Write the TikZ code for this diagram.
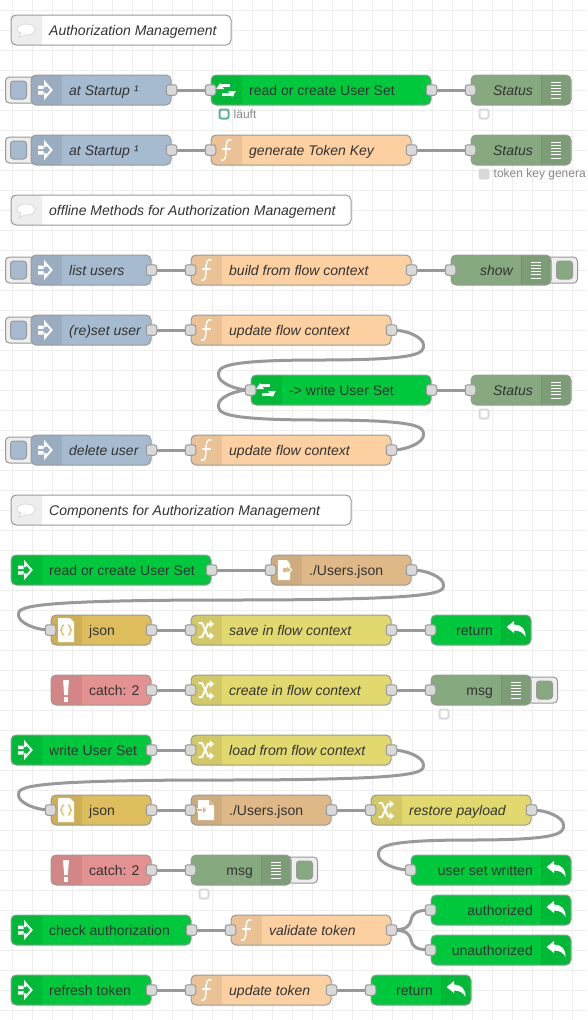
\documentclass[tikz,border=0pt]{standalone}
\usepackage{fontspec}
\setmainfont{Liberation Sans}
\usetikzlibrary{positioning,calc,backgrounds}

\definecolor{nrInject}{HTML}{A6BBCF}
\definecolor{nrLink}{HTML}{00C83C}
\definecolor{nrFunction}{HTML}{FDD0A2}
\definecolor{nrDebug}{HTML}{87A980}
\definecolor{nrChange}{HTML}{E2D96E}
\definecolor{nrFile}{HTML}{DEB887}
\definecolor{nrJson}{HTML}{DEBD5C}
\definecolor{nrCatch}{HTML}{E49191}
\definecolor{nrEdge}{HTML}{999999}
\definecolor{nrPort}{HTML}{D9D9D9}
\definecolor{nrGrid}{HTML}{EEEEEE}
\definecolor{nrText}{HTML}{333333}
\definecolor{nrHint}{HTML}{888888}
\definecolor{nrTeal}{HTML}{5FAE94}

% node body with the icon band on the left
\newcommand{\leftnode}[8]{
  \node[flowbox, fill=#5, minimum width={#3-#2}] (#1) at ({(#2+#3)/2},#4) {};
  \begin{scope}[shift={(#2,#4)}]
    \clip[rounded corners=4.5pt] (0.5,-14.5) rectangle ({#3-#2-0.5},14.5);
    \fill[iconband] (0,-15) rectangle (30,15);
    \fill[iconband] (29.5,-15) rectangle (30.5,15);
  \end{scope}
  \begin{scope}[shift={(#2+15,#4)}] #6 \end{scope}
  \node[#7, anchor=base west] (#1-label) at (#2+38,#4+5) {#8};
}
% node body with the icon band on the right
\newcommand{\rightnode}[8]{
  \node[flowbox, fill=#5, minimum width={#3-#2}] (#1) at ({(#2+#3)/2},#4) {};
  \begin{scope}[shift={(#2,#4)}]
    \clip[rounded corners=4.5pt] (0.5,-14.5) rectangle ({#3-#2-0.5},14.5);
    \fill[iconband] ({#3-#2-30},-15) rectangle ({#3-#2},15);
    \fill[iconband] ({#3-#2-30.5},-15) rectangle ({#3-#2-29.5},15);
  \end{scope}
  \begin{scope}[shift={(#3-15,#4)}] #6 \end{scope}
  \node[#7, anchor=base east] (#1-label) at (#3-38,#4+5) {#8};
}
% button tabs sitting behind a node
\newcommand{\lefttab}[2]{
  \begin{scope}[on background layer]
    \node[tabbox] (#1-tab) at ([xshift=-10]#1.west) {};
  \end{scope}
  \node[tabkey, fill=#2] (#1-key) at ([xshift=-12]#1.west) {};
}
\newcommand{\righttab}[2]{
  \begin{scope}[on background layer]
    \node[tabbox] (#1-tab) at ([xshift=11]#1.east) {};
  \end{scope}
  \node[tabkey, fill=#2] (#1-key) at ([xshift=13]#1.east) {};
}
% wire that loops back to a node further left, #3 is 1 going down, -1 going up
\newcommand{\loopwire}[3]{
  \draw[wire] (#1.center)
    .. controls ($(#1.center)+(16,0)$) and ($(#1.center)+(32,#3*7.5)$) .. ($(#1.center)+(32,#3*15)$)
    .. controls ($(#1.center)+(32,#3*22.5)$) and ($(#1.center)+(32,#3*30)$) .. ($(#1.center)!0.5!(#2.center)$)
    .. controls ($(#2.center)+(-32,-1*#3*30)$) and ($(#2.center)+(-32,-1*#3*22.5)$) .. ($(#2.center)+(-32,-1*#3*15)$)
    .. controls ($(#2.center)+(-32,-1*#3*7.5)$) and ($(#2.center)+(-16,0)$) .. (#2.center);
}

% icons
\newcommand{\iconInject}{
  \fill[white] (-8,-4.5) rectangle (-2.5,-1) (-8,1) rectangle (-2.5,4.5);
  \draw[white, line width=2pt, line join=miter] (-1,-3) -- (-1,-7.5) -- (5.5,0) -- (-1,7.5) -- (-1,3);
}
\newcommand{\iconDebug}{
  \foreach \k in {-8,-4.8,-1.6,1.6,4.8,8} {\draw[white, line width=1pt] (-5,\k) -- (5,\k);}
}
\newcommand{\iconFunction}{
  \draw[white, line width=1.5pt] (5.5,-10) .. controls (1,-12) and (0,-7) .. (0,0) .. controls (0,7) and (-1,12) .. (-5,10);
  \draw[white, line width=1.5pt] (-4.5,-1) -- (5,-1);
}
\newcommand{\iconLoop}{
  \draw[white, line width=3pt] (-6,-2) -- (-6,-4.5) -- (4,-4.5);
  \draw[white, line width=3pt] (6,2) -- (6,4.5) -- (-4,4.5);
  \fill[white] (-10,-1) -- (-2,-1) -- (-6,-7) -- cycle (2,1) -- (10,1) -- (6,7) -- cycle;
}
\newcommand{\iconNote}{
  \filldraw[draw=nrPort, fill=white, line width=0.8pt] (-5,3) -- (-7,7.5) -- (-1,5) .. controls (5,5.5) and (9,3) .. (9,-0.5) .. controls (9,-4) and (5,-6) .. (0,-6) .. controls (-5,-6) and (-9,-4) .. (-9,-0.5) .. controls (-9,1) and (-7.5,2.5) .. (-5,3) -- cycle;
}
\newcommand{\iconChange}{
  \draw[white, line width=2pt] (-7.5,-7) -- (-4,-7) -- (2,6) -- (5,6);
  \draw[white, line width=2pt] (-7.5,7) -- (-4,7) -- (2,-6) -- (5,-6);
  \fill[white] (3.5,-10) -- (8,-6) -- (3.5,-2) -- cycle (3.5,2) -- (8,6) -- (3.5,10) -- cycle;
}
\newcommand{\iconFileIn}{
  \fill[white] (-8,-10) -- (1,-10) -- (4,-6) -- (4,10) -- (-8,10) -- cycle;
  \fill[nrFile] (0.5,-2) -- (0.5,-5) -- (4.5,0) -- (0.5,5) -- (0.5,2) -- (-3,2) -- (-3,-2) -- cycle;
  \draw[white, line width=1pt] (0.5,-2) -- (0.5,-5) -- (6,0) -- (0.5,5) -- (0.5,2) -- (4,2);
}
\newcommand{\iconFileOut}{
  \fill[white] (-8,-10) -- (3,-10) -- (8,-5) -- (8,10) -- (-8,10) -- cycle;
  \fill[nrFile] (3,-10) -- (3,-5) -- (8,-5) -- cycle;
  \fill[white] (-9,-2) rectangle (-4,2);
  \fill[white] (-4,-5) -- (2,0) -- (-4,5) -- cycle;
  \fill[nrFile] (-9,-1) rectangle (-4,1);
  \fill[nrFile] (-3,-3) -- (0.5,0) -- (-3,3) -- cycle;
}
\newcommand{\iconJson}{
  \fill[white] (-8,-12) -- (4,-12) -- (8,-8) -- (8,12) -- (-8,12) -- cycle;
  \draw[nrJson, line width=1.2pt] (-2,-5) .. controls (-5,-5) and (-3,-1) .. (-5.5,0) .. controls (-3,1) and (-5,5) .. (-2,5);
  \draw[nrJson, line width=1.2pt] (2,-5) .. controls (5,-5) and (3,-1) .. (5.5,0) .. controls (3,1) and (5,5) .. (2,5);
}
\newcommand{\iconCatch}{
  \fill[white] (-3,-10) -- (3,-10) -- (1.8,5) -- (-1.8,5) -- cycle;
  \fill[white] (-2.2,7) rectangle (2.2,12);
}
\newcommand{\iconReturn}{
  \fill[white] (-9.5,-3) -- (-2,-9) -- (-2,-5.5) .. controls (5,-5.5) and (10,-1) .. (9.5,7) .. controls (7.5,3) and (4,0.5) .. (-2,0.5) -- (-2,3) -- cycle;
}

\begin{document}
\begin{tikzpicture}[
    x=1pt, y=-1pt,
    flowbox/.style={rectangle, draw=nrEdge, line width=1pt, rounded corners=5pt, minimum height=30pt, inner sep=0pt},
    iconband/.style={black, fill opacity=0.07},
    tabbox/.style={rectangle, draw=nrEdge, line width=1pt, fill=nrGrid, rounded corners=4pt, minimum width=30pt, minimum height=26pt, inner sep=0pt},
    tabkey/.style={rectangle, draw=nrEdge, line width=1pt, rounded corners=3pt, minimum width=16pt, minimum height=18pt, inner sep=0pt},
    port/.style={rectangle, draw=nrEdge, line width=1pt, fill=nrPort, rounded corners=2.5pt, minimum size=10.5pt, inner sep=0pt},
    wire/.style={draw=nrEdge, line width=3pt},
    flowtext/.style={font=\fontsize{14}{16}\selectfont, text=nrText, inner sep=0pt},
    flowname/.style={flowtext, font=\fontsize{14}{16}\selectfont\itshape},
    statusring/.style={rectangle, draw=#1, line width=2pt, fill=white, rounded corners=2pt, minimum size=9pt, inner sep=0pt},
    statusfull/.style={rectangle, draw=#1, line width=2pt, fill=#1, rounded corners=2pt, minimum size=9pt, inner sep=0pt},
    statustext/.style={font=\fontsize{12}{14}\selectfont, text=nrHint, inner sep=0pt},
]
\useasboundingbox (0,0) rectangle (587,1020);

% Canvas
\begin{scope}[on background layer]
  \fill[white] (0,0) rectangle (587,1020);
  \foreach \gx in {12,32,...,572} {\draw[nrGrid, line width=1pt] (\gx,0) -- (\gx,1020);}
  \foreach \gy in {10,30,...,1010} {\draw[nrGrid, line width=1pt] (0,\gy) -- (587,\gy);}
\end{scope}

% Authorization Management
\leftnode{noteAuth}{11}{231}{30}{white}{\iconNote}{flowname}{Authorization Management}
\leftnode{startA}{31}{171}{90}{nrInject}{\iconInject}{flowname}{at Startup ¹}
\leftnode{readSet}{211}{431}{90}{nrLink}{\iconLoop}{flowtext}{read or create User Set}
\rightnode{statusA}{471}{571}{90}{nrDebug}{\iconDebug}{flowname}{Status}
\leftnode{startB}{31}{171}{150}{nrInject}{\iconInject}{flowname}{at Startup ¹}
\leftnode{tokenKey}{211}{411}{150}{nrFunction}{\iconFunction}{flowname}{generate Token Key}
\rightnode{statusB}{471}{571}{150}{nrDebug}{\iconDebug}{flowname}{Status}

% offline Methods
\leftnode{noteOffline}{11}{351}{210}{white}{\iconNote}{flowname}{offline Methods for Authorization Management}
\leftnode{listUsers}{31}{151}{270}{nrInject}{\iconInject}{flowname}{list users}
\leftnode{buildCtx}{191}{411}{270}{nrFunction}{\iconFunction}{flowname}{build from flow context}
\rightnode{showDbg}{451}{551}{270}{nrDebug}{\iconDebug}{flowname}{show}
\leftnode{resetUser}{31}{151}{330}{nrInject}{\iconInject}{flowname}{(re)set user}
\leftnode{updateA}{191}{391}{330}{nrFunction}{\iconFunction}{flowname}{update flow context}
\leftnode{writeSet}{251}{431}{390}{nrLink}{\iconLoop}{flowtext}{-> write User Set}
\rightnode{statusC}{471}{571}{390}{nrDebug}{\iconDebug}{flowname}{Status}
\leftnode{deleteUser}{31}{151}{450}{nrInject}{\iconInject}{flowname}{delete user}
\leftnode{updateB}{191}{391}{450}{nrFunction}{\iconFunction}{flowname}{update flow context}

% Components
\leftnode{noteComp}{11}{351}{510}{white}{\iconNote}{flowname}{Components for Authorization Management}
\leftnode{linkRead}{11}{211}{570}{nrLink}{\iconInject}{flowtext}{read or create User Set}
\leftnode{fileRead}{271}{411}{570}{nrFile}{\iconFileIn}{flowtext}{./Users.json}
\leftnode{jsonA}{51}{151}{630}{nrJson}{\iconJson}{flowtext}{json}
\leftnode{saveCtx}{191}{391}{630}{nrChange}{\iconChange}{flowname}{save in flow context}
\rightnode{returnA}{431}{531}{630}{nrLink}{\iconReturn}{flowtext}{return}
\leftnode{catchA}{51}{151}{690}{nrCatch}{\iconCatch}{flowtext}{catch: 2}
\leftnode{createCtx}{191}{391}{690}{nrChange}{\iconChange}{flowname}{create in flow context}
\rightnode{msgA}{431}{531}{690}{nrDebug}{\iconDebug}{flowtext}{msg}
\leftnode{linkWrite}{11}{151}{750}{nrLink}{\iconInject}{flowtext}{write User Set}
\leftnode{loadCtx}{191}{391}{750}{nrChange}{\iconChange}{flowname}{load from flow context}
\leftnode{jsonB}{51}{151}{810}{nrJson}{\iconJson}{flowtext}{json}
\leftnode{fileWrite}{191}{331}{810}{nrFile}{\iconFileOut}{flowtext}{./Users.json}
\leftnode{restorePay}{371}{531}{810}{nrChange}{\iconChange}{flowname}{restore payload}
\rightnode{returnB}{411}{571}{870}{nrLink}{\iconReturn}{flowtext}{user set written}
\leftnode{catchB}{51}{151}{870}{nrCatch}{\iconCatch}{flowtext}{catch: 2}
\rightnode{msgB}{191}{291}{870}{nrDebug}{\iconDebug}{flowtext}{msg}
\leftnode{linkCheck}{11}{191}{930}{nrLink}{\iconInject}{flowtext}{check authorization}
\leftnode{validate}{231}{391}{930}{nrFunction}{\iconFunction}{flowname}{validate token}
\rightnode{returnOk}{431}{571}{910}{nrLink}{\iconReturn}{flowtext}{authorized}
\rightnode{returnNo}{431}{571}{950}{nrLink}{\iconReturn}{flowtext}{unauthorized}
\leftnode{linkRefresh}{11}{151}{990}{nrLink}{\iconInject}{flowtext}{refresh token}
\leftnode{updateTok}{191}{331}{990}{nrFunction}{\iconFunction}{flowname}{update token}
\rightnode{returnC}{371}{471}{990}{nrLink}{\iconReturn}{flowtext}{return}

% Button tabs
\lefttab{startA}{nrInject}
\lefttab{startB}{nrInject}
\lefttab{listUsers}{nrInject}
\lefttab{resetUser}{nrInject}
\lefttab{deleteUser}{nrInject}
\righttab{showDbg}{nrDebug}
\righttab{msgA}{nrDebug}
\righttab{msgB}{nrDebug}

% Ports
\foreach \portname in {readSet,statusA,tokenKey,statusB,buildCtx,showDbg,updateA,writeSet,statusC,updateB,
    fileRead,jsonA,saveCtx,returnA,createCtx,msgA,loadCtx,jsonB,fileWrite,restorePay,returnB,msgB,validate,returnOk,returnNo,updateTok,returnC}
  {\node[port] (\portname-in) at (\portname.west) {};}
\foreach \portname in {startA,readSet,startB,tokenKey,listUsers,buildCtx,resetUser,updateA,writeSet,deleteUser,updateB,
    linkRead,fileRead,jsonA,saveCtx,catchA,createCtx,linkWrite,loadCtx,jsonB,fileWrite,restorePay,catchB,linkCheck,validate,linkRefresh,updateTok}
  {\node[port] (\portname-out) at (\portname.east) {};}

% Status under the nodes
\node[statusring=nrTeal] (readSet-dot) at ($(readSet.south west)+(13.5,8.5)$) {};
\node[statustext, right=4pt of readSet-dot] (readSet-hint) {läuft};
\node[statusring=nrPort] (statusA-dot) at ($(statusA.south west)+(13.5,8.5)$) {};
\node[statusfull=nrPort] (statusB-dot) at ($(statusB.south west)+(13.5,8.5)$) {};
\node[statustext, right=4pt of statusB-dot] (statusB-hint) {token key genera};
\node[statusring=nrPort] (statusC-dot) at ($(statusC.south west)+(13.5,8.5)$) {};
\node[statusring=nrPort] (msgA-dot) at ($(msgA.south west)+(13.5,8.5)$) {};
\node[statusring=nrPort] (msgB-dot) at ($(msgB.south west)+(13.5,8.5)$) {};

% Wires
\begin{scope}[on background layer]
  \draw[wire] (startA-out.center) -- (readSet-in.center);
  \draw[wire] (readSet-out.center) -- (statusA-in.center);
  \draw[wire] (startB-out.center) -- (tokenKey-in.center);
  \draw[wire] (tokenKey-out.center) -- (statusB-in.center);
  \draw[wire] (listUsers-out.center) -- (buildCtx-in.center);
  \draw[wire] (buildCtx-out.center) -- (showDbg-in.center);
  \draw[wire] (resetUser-out.center) -- (updateA-in.center);
  \loopwire{updateA-out}{writeSet-in}{1}
  \draw[wire] (writeSet-out.center) -- (statusC-in.center);
  \draw[wire] (deleteUser-out.center) -- (updateB-in.center);
  \loopwire{updateB-out}{writeSet-in}{-1}
  \draw[wire] (linkRead-out.center) -- (fileRead-in.center);
  \loopwire{fileRead-out}{jsonA-in}{1}
  \draw[wire] (jsonA-out.center) -- (saveCtx-in.center);
  \draw[wire] (saveCtx-out.center) -- (returnA-in.center);
  \draw[wire] (catchA-out.center) -- (createCtx-in.center);
  \draw[wire] (createCtx-out.center) -- (msgA-in.center);
  \draw[wire] (linkWrite-out.center) -- (loadCtx-in.center);
  \loopwire{loadCtx-out}{jsonB-in}{1}
  \draw[wire] (jsonB-out.center) -- (fileWrite-in.center);
  \draw[wire] (fileWrite-out.center) -- (restorePay-in.center);
  \loopwire{restorePay-out}{returnB-in}{1}
  \draw[wire] (catchB-out.center) -- (msgB-in.center);
  \draw[wire] (linkCheck-out.center) -- (validate-in.center);
  \draw[wire] (validate-out.center) .. controls +(33.5,0) and +(-33.5,0) .. (returnOk-in.center);
  \draw[wire] (validate-out.center) .. controls +(33.5,0) and +(-33.5,0) .. (returnNo-in.center);
  \draw[wire] (linkRefresh-out.center) -- (updateTok-in.center);
  \draw[wire] (updateTok-out.center) -- (returnC-in.center);
\end{scope}

\end{tikzpicture}
\end{document}
